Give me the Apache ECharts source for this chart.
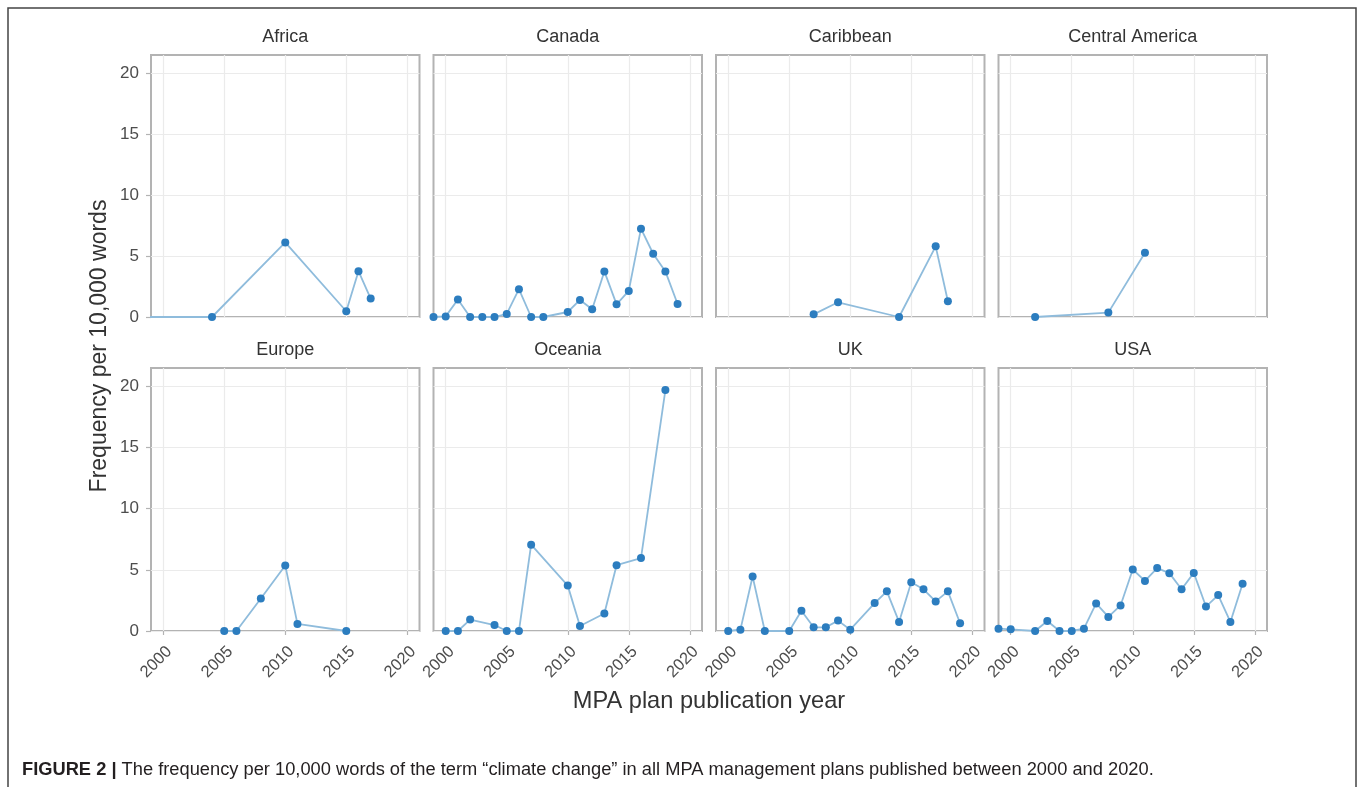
<!DOCTYPE html>
<html>
<head>
<meta charset="utf-8">
<script src="https://cdn.jsdelivr.net/npm/echarts@6/dist/echarts.min.js"></script>
<style>
html,body{margin:0;padding:0;background:#fff;}
#chart{width:1358px;height:787px;}
</style>
</head>
<body>
<div id="chart"></div>
<script>
// ---- data ----
const regions = ["Africa", "Canada", "Caribbean", "Central America", "Europe", "Oceania", "UK", "USA"];

const africaYears = [1998, 2004, 2010, 2015, 2016, 2017];
const africaValues = [0, 0, 6.12, 0.47, 3.76, 1.51];

const canadaYears = [1999, 2000, 2001, 2002, 2003, 2004, 2005, 2006, 2007, 2008, 2010, 2011, 2012, 2013, 2014, 2015, 2016, 2017, 2018, 2019];
const canadaValues = [0, 0.05, 1.43, 0, 0, 0, 0.25, 2.28, 0, 0, 0.41, 1.40, 0.63, 3.74, 1.04, 2.14, 7.25, 5.19, 3.74, 1.07];

const caribbeanYears = [2007, 2009, 2014, 2017, 2018];
const caribbeanValues = [0.22, 1.21, 0, 5.80, 1.29];

const centralAmericaYears = [2002, 2008, 2011];
const centralAmericaValues = [0, 0.36, 5.27];

const europeYears = [2005, 2006, 2008, 2010, 2011, 2015];
const europeValues = [0, 0, 2.66, 5.36, 0.58, 0];

const oceaniaYears = [2000, 2001, 2002, 2004, 2005, 2006, 2007, 2010, 2011, 2013, 2014, 2016, 2018];
const oceaniaValues = [0, 0, 0.93, 0.49, 0, 0, 7.06, 3.71, 0.41, 1.43, 5.38, 5.96, 19.7];

const ukYears = [2000, 2001, 2002, 2003, 2005, 2006, 2007, 2008, 2009, 2010, 2012, 2013, 2014, 2015, 2016, 2017, 2018, 2019];
const ukValues = [0, 0.11, 4.45, 0, 0, 1.65, 0.30, 0.30, 0.85, 0.11, 2.28, 3.24, 0.74, 3.98, 3.41, 2.42, 3.24, 0.63];

const usaYears = [1999, 2000, 2002, 2003, 2004, 2005, 2006, 2007, 2008, 2009, 2010, 2011, 2012, 2013, 2014, 2015, 2016, 2017, 2018, 2019];
const usaValues = [0.19, 0.14, 0, 0.82, 0, 0, 0.19, 2.25, 1.15, 2.09, 5.03, 4.09, 5.14, 4.73, 3.41, 4.75, 2.0, 2.94, 0.74, 3.87];

const xTicks = [2000, 2005, 2010, 2015, 2020];
const yTicks = [0, 5, 10, 15, 20];

const seriesYears = [africaYears, canadaYears, caribbeanYears, centralAmericaYears, europeYears, oceaniaYears, ukYears, usaYears];
const seriesValues = [africaValues, canadaValues, caribbeanValues, centralAmericaValues, europeValues, oceaniaValues, ukValues, usaValues];

const xTitle = "MPA plan publication year";
const yTitle = "Frequency per 10,000 words";
const caption = "The frequency per 10,000 words of the term \u201cclimate change\u201d in all MPA management plans published between 2000 and 2020.";

// ---- layout ----
const FONT = "'Liberation Sans', Arial, Helvetica, sans-serif";
const panelLefts = [151, 433.5, 716, 998.5];
const panelW = 268.5;
const rowTops = [55, 368];
const rowH = [262, 263];
const gridColor = '#ebebeb';
const borderColor = '#b3b3b3';
const textColor = '#4d4d4d';

const grids = [], xAxes = [], yAxes = [], series = [], titles = [];

regions.forEach((name, i) => {
  const col = i % 4, row = Math.floor(i / 4);
  grids.push({
    left: panelLefts[col], top: rowTops[row], width: panelW, height: rowH[row],
    show: true, borderColor: borderColor, borderWidth: 2, backgroundColor: 'transparent'
  });
  xAxes.push({
    type: 'value', gridIndex: i, min: 1999, max: 2021,
    axisLine: { show: false },
    axisTick: { show: row === 1, length: 4, lineStyle: { color: borderColor, width: 1.2 }, customValues: xTicks },
    axisLabel: {
      show: row === 1, customValues: xTicks, formatter: v => String(v), rotate: 45,
      align: 'right', verticalAlign: 'top',
      fontSize: 16.5, color: textColor, fontFamily: FONT, margin: 12
    },
    splitLine: { show: true, lineStyle: { color: gridColor, width: 1.2 } }
  });
  yAxes.push({
    type: 'value', gridIndex: i, min: 0, max: 21.5,
    axisLine: { show: false },
    axisTick: { show: col === 0, length: 5, lineStyle: { color: borderColor, width: 1.2 }, customValues: yTicks },
    axisLabel: { show: col === 0, customValues: yTicks, formatter: v => String(v), fontSize: 17, color: textColor, fontFamily: FONT, margin: 12 },
    splitLine: { show: true, lineStyle: { color: gridColor, width: 1.2 } }
  });
  series.push({
    type: 'line', xAxisIndex: i, yAxisIndex: i,
    data: seriesYears[i].map((y, k) => [y, seriesValues[i][k]]),
    symbol: 'circle', symbolSize: 8, clip: true,
    lineStyle: { color: '#8fbcdc', width: 1.8 },
    itemStyle: { color: '#2c7dbf' },
    emphasis: { disabled: true },
    animation: false
  });
  titles.push({
    text: name, left: panelLefts[col] + panelW / 2, top: rowTops[row] - 27, textAlign: 'center', padding: 0,
    textStyle: { fontSize: 18, fontWeight: 'normal', color: '#333', fontFamily: FONT }
  });
});

titles.push({
  text: '{b|FIGURE 2 |} ' + caption,
  left: 22, top: 761, padding: 0,
  textStyle: {
    fontSize: 18.3, fontWeight: 'normal', color: '#231f20', fontFamily: FONT,
    rich: { b: { fontSize: 18.3, fontWeight: 'bold', color: '#231f20', fontFamily: FONT } }
  }
});

const option = {
  animation: false,
  backgroundColor: '#fff',
  title: titles,
  grid: grids,
  xAxis: xAxes,
  yAxis: yAxes,
  series: series,
  graphic: [
    { type: 'rect', shape: { x: 8, y: 8, width: 1348, height: 820 }, style: { fill: 'none', stroke: '#444', lineWidth: 1.5 }, silent: true, z: -1 },
    { type: 'text', x: 709, y: 701, style: { text: xTitle, fontSize: 23.6, fill: '#333', fontFamily: FONT, align: 'center', verticalAlign: 'middle' } },
    { type: 'text', x: 100, y: 346, rotation: Math.PI / 2, style: { text: yTitle, fontSize: 23, fill: '#333', fontFamily: FONT, align: 'center', verticalAlign: 'middle' } }
  ]
};

const chart = echarts.init(document.getElementById('chart'), null, { renderer: 'canvas' });
chart.setOption(option);
</script>
</body>
</html>
